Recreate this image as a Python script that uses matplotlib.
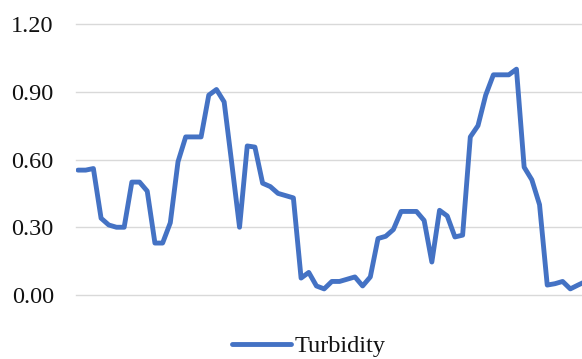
import matplotlib
matplotlib.use('Agg')
import matplotlib.pyplot as plt
import numpy as np

# Turbidity readings, one per sample
turbidity = [
    0.553, 0.553, 0.56, 0.34, 0.31, 0.30, 0.30, 0.50, 0.50, 0.46,
    0.23, 0.23, 0.32, 0.59, 0.70, 0.70, 0.70, 0.885, 0.91, 0.855,
    0.58, 0.30, 0.66, 0.655, 0.495, 0.48, 0.45, 0.44, 0.43, 0.075,
    0.10, 0.04, 0.027, 0.06, 0.06, 0.07, 0.08, 0.04, 0.08, 0.25,
    0.26, 0.29, 0.37, 0.37, 0.37, 0.33, 0.146, 0.375, 0.35, 0.257,
    0.265, 0.70, 0.75, 0.885, 0.975, 0.975, 0.975, 1.00, 0.566, 0.51,
    0.40, 0.044, 0.05, 0.06, 0.027, 0.044, 0.06,
]
y_ticks = [0.0, 0.3, 0.6, 0.9, 1.2]

BLUE = '#4472C4'
GRID = '#D9D9D9'
TEXT = '#111111'

plt.rcParams['font.family'] = ['Liberation Serif', 'DejaVu Serif']

fig = plt.figure(figsize=(5.82, 3.59), dpi=100, facecolor='white')
ax = fig.add_axes([76 / 582, 64 / 359, 506 / 582, 271 / 359])

# horizontal grid, unclipped so the 0.00 and 1.20 lines keep full width
for v in y_ticks:
    ax.axhline(v, color=GRID, linewidth=1.0, clip_on=False, zorder=1)

x = np.arange(len(turbidity))
line, = ax.plot(x, turbidity, color=BLUE, linewidth=3.5,
                solid_joinstyle='round', solid_capstyle='round',
                label='Turbidity', zorder=3)

ax.set_xlim(-0.26, 65.52)
ax.set_ylim(0, 1.2)
ax.set_yticks(y_ticks)
ax.set_yticklabels([f'{v:.2f}' for v in y_ticks])
ax.set_xticks([])

for spine in ax.spines.values():
    spine.set_visible(False)
ax.tick_params(axis='y', length=0, pad=16, labelsize=17.5, labelcolor=TEXT)

fig.legend(handles=[line], loc='center',
           bbox_to_anchor=(309 / 582, 1 - 346 / 359),
           frameon=False, fontsize=17.5, handlelength=2.4,
           handletextpad=0.17, labelcolor=TEXT)

fig.savefig('out.png', dpi=100, facecolor='white')
